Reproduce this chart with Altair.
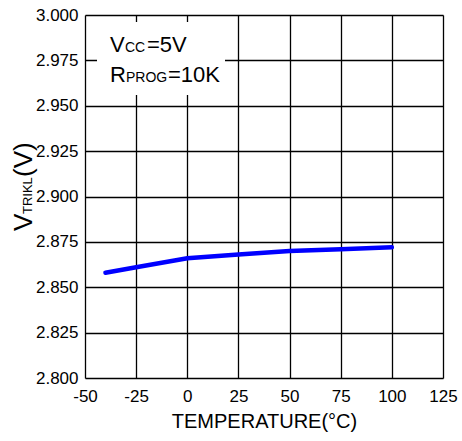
import altair as alt
import pandas as pd

# Data
temperature = [-40, -25, 0, 25, 50, 75, 100]
v_trikl = [2.858, 2.861, 2.866, 2.868, 2.870, 2.871, 2.872]

x_ticks = [-50, -25, 0, 25, 50, 75, 100, 125]
y_ticks = [2.800, 2.825, 2.850, 2.875, 2.900, 2.925, 2.950, 2.975, 3.000]

FONT = "Liberation Sans"

df = pd.DataFrame({"temp": temperature, "v": v_trikl})

base = alt.Chart(df)

line = base.mark_line(color="#0000FF", strokeWidth=4.5, strokeCap="round").encode(
    x=alt.X(
        "temp:Q",
        scale=alt.Scale(domain=[-50, 125], nice=False, zero=False),
        axis=alt.Axis(
            values=x_ticks,
            labelExpr="datum.value < 0 ? '-' + abs(datum.value) : '' + datum.value",
            title="TEMPERATURE(°C)",
            titleFont=FONT,
            titleFontSize=20,
            titleFontWeight="normal",
            titleColor="black",
            titlePadding=7,
            labelFont=FONT,
            labelFontSize=17,
            labelColor="black",
            labelPadding=10,
            ticks=False,
            domain=False,
            grid=True,
            gridColor="black",
            gridWidth=1.3,
            gridOpacity=1,
            labelFlush=False,
        ),
    ),
    y=alt.Y(
        "v:Q",
        scale=alt.Scale(domain=[2.8, 3.0], nice=False, zero=False),
        axis=alt.Axis(
            values=y_ticks,
            format=".3f",
            title=None,
            labelFont=FONT,
            labelFontSize=17,
            labelColor="black",
            labelPadding=7,
            ticks=False,
            domain=False,
            grid=True,
            gridColor="black",
            gridWidth=1.3,
            gridOpacity=1,
            labelFlush=False,
        ),
    ),
)

one = pd.DataFrame({"k": [0]})

# white box behind the annotation (hides grid lines there)
box = alt.Chart(one).mark_rect(color="white").encode(
    x=alt.value(12), x2=alt.value(140), y=alt.value(7), y2=alt.value(80)
)


def txt(text, x, y, size, angle=0):
    return alt.Chart(pd.DataFrame({"t": [text]})).mark_text(
        font=FONT, fontSize=size, color="black", align="left",
        baseline="alphabetic", angle=angle,
    ).encode(text="t:N", x=alt.value(x), y=alt.value(y))


annotations = [
    txt("V", 25, 37, 22),
    txt("CC", 40, 37, 14),
    txt("=5V", 62, 37, 22),
    txt("R", 25, 67, 22),
    txt("PROG", 41, 67, 14),
    txt("=10K", 83, 67, 22),
    # y-axis title
    txt("V", -53, 216, 26, 270),
    txt("TRIKL", -53, 199, 13, 270),
    txt("(V)", -53, 162, 26, 270),
]

chart = alt.layer(box, line, *annotations).properties(
    width=358,
    height=363,
    autosize=alt.AutoSizeParams(type="none"),
    padding={"left": 85, "top": 15, "right": 19, "bottom": 63},
).configure_view(
    stroke="black", strokeWidth=4
).configure(background="white")

chart.save("out.html", embed_options={"renderer": "svg", "actions": False})
